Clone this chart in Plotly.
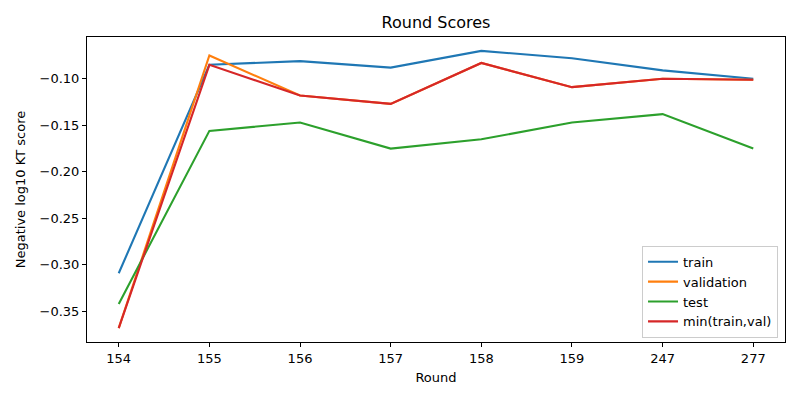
import plotly.graph_objects as go

rounds = ["154", "155", "156", "157", "158", "159", "247", "277"]
train = [-0.309, -0.085, -0.081, -0.088, -0.070, -0.078, -0.091, -0.100]
validation = [-0.368, -0.075, -0.118, -0.127, -0.083, -0.109, -0.100, -0.101]
test = [-0.342, -0.156, -0.147, -0.175, -0.165, -0.147, -0.138, -0.175]
min_train_val = [min(a, b) for a, b in zip(train, validation)]

series = [
    ("train", train, "#1f77b4"),
    ("validation", validation, "#ff7f0e"),
    ("test", test, "#2ca02c"),
    ("min(train,val)", min_train_val, "#d62728"),
]

fig = go.Figure()
for name, vals, color in series:
    fig.add_trace(go.Scatter(x=rounds, y=vals, mode="lines", name=name,
                             line=dict(color=color, width=2.1)))

font = "DejaVu Sans"
axis_common = dict(showline=True, linecolor="black", linewidth=1, mirror=True,
                   ticks="outside", ticklen=4, tickcolor="black", showgrid=False,
                   zeroline=False,
                   tickfont=dict(family=font, size=13, color="black"))

fig.update_layout(
    width=800, height=400,
    margin=dict(l=87, r=15, t=37, b=58),
    paper_bgcolor="white", plot_bgcolor="white",
    title=dict(text="Round Scores", xref="paper", x=0.5, xanchor="center", y=0.943, yanchor="middle",
               font=dict(family=font, size=16, color="black")),
    xaxis=dict(type="category", range=[-0.35, 7.35],
               title=dict(text="Round", font=dict(family=font, size=13, color="black"), standoff=8),
               **axis_common),
    yaxis=dict(range=[-0.3829, -0.0551], tickvals=[-0.35, -0.30, -0.25, -0.20, -0.15, -0.10],
               ticktext=["\u22120.35", "\u22120.30", "\u22120.25", "\u22120.20", "\u22120.15", "\u22120.10"],
               title=dict(text="Negative log10 KT score", font=dict(family=font, size=13, color="black"), standoff=11),
               **axis_common),
    legend=dict(x=0.99, y=0.014, xanchor="right", yanchor="bottom",
                bordercolor="#cccccc", borderwidth=1, bgcolor="rgba(255,255,255,0.8)",
                font=dict(family=font, size=13, color="black"), tracegroupgap=0),
    showlegend=True,
)

fig.write_html("out.html", config={"displayModeBar": False},
               post_script="document.body.style.margin='0';")
